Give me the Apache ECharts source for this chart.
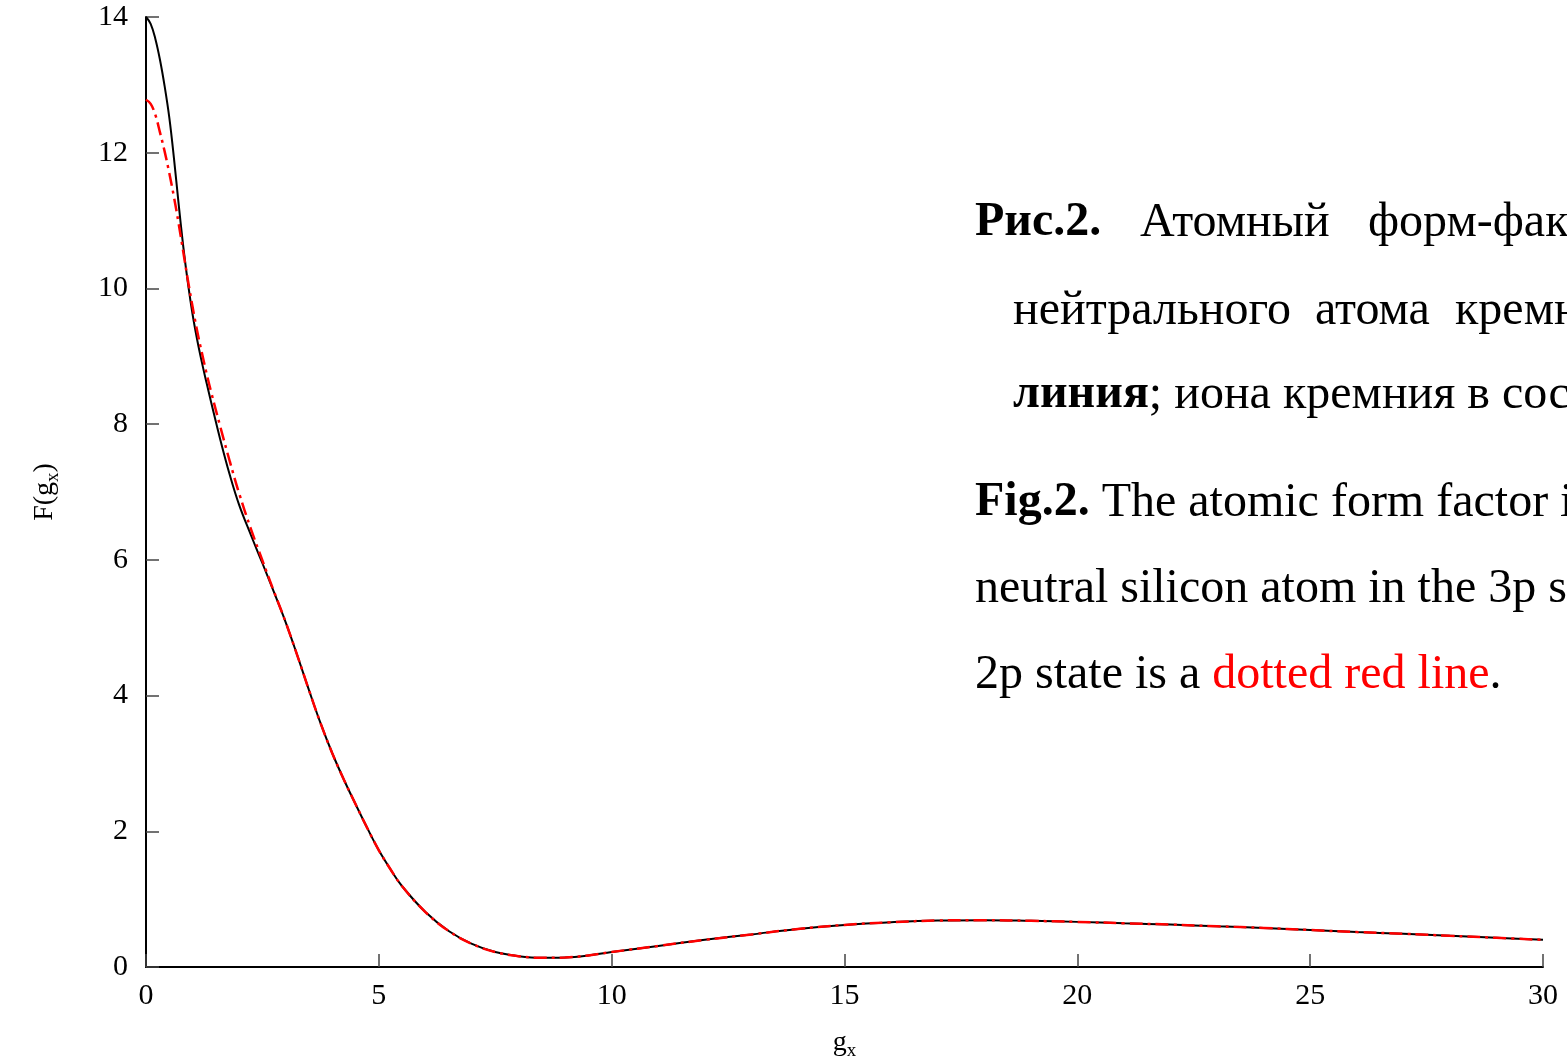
<!doctype html>
<html>
<head>
<meta charset="utf-8">
<title>F(gx)</title>
<script src="https://cdn.jsdelivr.net/npm/echarts@6/dist/echarts.min.js"></script>
<style>
  html, body { margin: 0; padding: 0; background: #fff; }
  #chart { width: 1567px; height: 1062px; }
</style>
</head>
<body>
<div id="chart"></div>
<script>
// g_x grid
var gx = [0, 0.1, 0.2, 0.3, 0.4, 0.5, 0.6, 0.7, 0.8, 0.9, 1.0, 1.1, 1.2, 1.3, 1.4, 1.6, 1.8, 2.0,
  2.25, 2.5, 2.75, 3.0, 3.25, 3.5, 3.75, 4.0, 4.25, 4.5, 4.75, 5.0, 5.25, 5.5, 6.0, 6.5, 7.0,
  7.5, 8.0, 8.5, 9.0, 9.5, 10, 11, 12, 13, 14, 15, 16, 17, 18, 19, 20, 21, 22, 23, 24,
  25, 26, 27, 28, 29, 30];

// нейтральный атом (сплошная чёрная)
var fAtom = [14.0, 13.9, 13.68, 13.37, 12.98, 12.52, 11.92, 11.25, 10.62, 10.08, 9.62, 9.24, 8.91, 8.61, 8.32, 7.76, 7.25, 6.81,
  6.37, 5.95, 5.52, 5.08, 4.59, 4.08, 3.59, 3.15, 2.76, 2.40, 2.05, 1.72, 1.44, 1.19, 0.81, 0.53, 0.34,
  0.22, 0.16, 0.135, 0.14, 0.17, 0.22, 0.31, 0.40, 0.48, 0.56, 0.62, 0.66, 0.685, 0.69, 0.68, 0.665, 0.645, 0.625, 0.60, 0.575,
  0.545, 0.515, 0.49, 0.46, 0.43, 0.40];

// ион 2p (красная штрих-пунктирная)
var fIon = [12.78, 12.72, 12.56, 12.3, 12.02, 11.70, 11.35, 10.96, 10.54, 10.12, 9.73, 9.37, 9.05, 8.75, 8.47, 7.95, 7.45, 6.98,
  6.46, 5.99, 5.53, 5.08, 4.59, 4.08, 3.59, 3.15, 2.76, 2.40, 2.05, 1.72, 1.44, 1.19, 0.81, 0.53, 0.34,
  0.22, 0.16, 0.135, 0.14, 0.17, 0.22, 0.31, 0.40, 0.48, 0.56, 0.62, 0.66, 0.685, 0.69, 0.68, 0.665, 0.645, 0.625, 0.60, 0.575,
  0.545, 0.515, 0.49, 0.46, 0.43, 0.40];

var xTicks = [0, 5, 10, 15, 20, 25, 30];
var yTicks = [0, 2, 4, 6, 8, 10, 12, 14];

function pairs(xs, ys) {
  var out = [];
  for (var i = 0; i < xs.length; i++) out.push([xs[i], ys[i]]);
  return out;
}

var serif = '"Liberation Serif", "DejaVu Serif", serif';
var capSize = 48;

function word(x, y, text, bold, color) {
  return {
    type: 'text', left: x, top: y, silent: true,
    style: {
      text: text, fill: color || '#000',
      font: (bold ? 'bold ' : '') + capSize + 'px ' + serif
    }
  };
}

var nameRich = {
  m: { fontFamily: serif, fontSize: 28, color: '#000', verticalAlign: 'top', lineHeight: 29 },
  s: { fontFamily: serif, fontSize: 19, color: '#000', verticalAlign: 'top', lineHeight: 20, padding: [13, 0, 0, 0] }
};

var myChart = echarts.init(document.getElementById('chart'));
var option = {
  animation: false,
  backgroundColor: '#fff',
  grid: { left: 146, right: 24, top: 17, bottom: 95, containLabel: false, outerBoundsMode: 'none' },
  xAxis: {
    type: 'value', min: 0, max: 30, interval: 5,
    name: '{m|g}{s|x}', nameLocation: 'middle', nameGap: 62,
    nameTextStyle: { rich: nameRich },
    axisLine: { lineStyle: { color: '#000', width: 2 } },
    axisTick: { inside: true, length: 13, lineStyle: { color: '#444', width: 1.5 } },
    axisLabel: {
      fontFamily: serif, fontSize: 30, color: '#000', margin: 14,
      formatter: function (v) { return xTicks.indexOf(v) >= 0 ? String(v) : ''; }
    },
    splitLine: { show: false }
  },
  yAxis: {
    type: 'value', min: 0, max: 14, interval: 2,
    name: '{m|F(g}{s|x}{m|)}', nameLocation: 'middle', nameGap: 86,
    nameTextStyle: { rich: nameRich },
    axisLine: { show: true, lineStyle: { color: '#000', width: 2 } },
    axisTick: { show: true, inside: true, length: 13, lineStyle: { color: '#444', width: 1.5 } },
    axisLabel: {
      fontFamily: serif, fontSize: 30, color: '#000', margin: 18,
      formatter: function (v) { return yTicks.indexOf(v) >= 0 ? String(v) : ''; }
    },
    splitLine: { show: false }
  },
  series: [
    {
      name: 'atom', type: 'line', data: pairs(gx, fAtom),
      showSymbol: false, smooth: 0.4, z: 2,
      lineStyle: { color: '#000', width: 2 }
    },
    {
      name: 'ion', type: 'line', data: pairs(gx, fIon),
      showSymbol: false, smooth: 0.4, z: 3,
      lineStyle: { color: '#ff0000', width: 2.5, type: [13, 5, 3, 5] }
    }
  ],
  graphic: [
    word(975, 199, 'Рис.2.', true),
    word(1140, 199, 'Атомный', false),
    word(1368, 199, 'форм-фактор', false),
    word(1013, 287, 'нейтрального', false),
    word(1315, 287, 'атома', false),
    word(1455, 287, 'кремния', false),
    {
      type: 'text', left: 1013, top: 371, silent: true,
      style: {
        text: '{b|линия}{n|; иона кремния в состоянии}',
        rich: {
          b: { font: 'bold ' + capSize + 'px ' + serif, fill: '#000' },
          n: { font: capSize + 'px ' + serif, fill: '#000' }
        }
      }
    },
    {
      type: 'text', left: 975, top: 479, silent: true,
      style: {
        text: '{b|Fig.2.}{n| The atomic form factor is}',
        rich: {
          b: { font: 'bold ' + capSize + 'px ' + serif, fill: '#000' },
          n: { font: capSize + 'px ' + serif, fill: '#000' }
        }
      }
    },
    word(975, 565, 'neutral silicon atom in the 3p state', false),
    {
      type: 'text', left: 975, top: 651, silent: true,
      style: {
        text: '{n|2p state is a }{r|dotted red line}{n|.}',
        rich: {
          n: { font: capSize + 'px ' + serif, fill: '#000' },
          r: { font: capSize + 'px ' + serif, fill: '#ff0000' }
        }
      }
    }
  ]
};
myChart.setOption(option);
</script>
</body>
</html>
